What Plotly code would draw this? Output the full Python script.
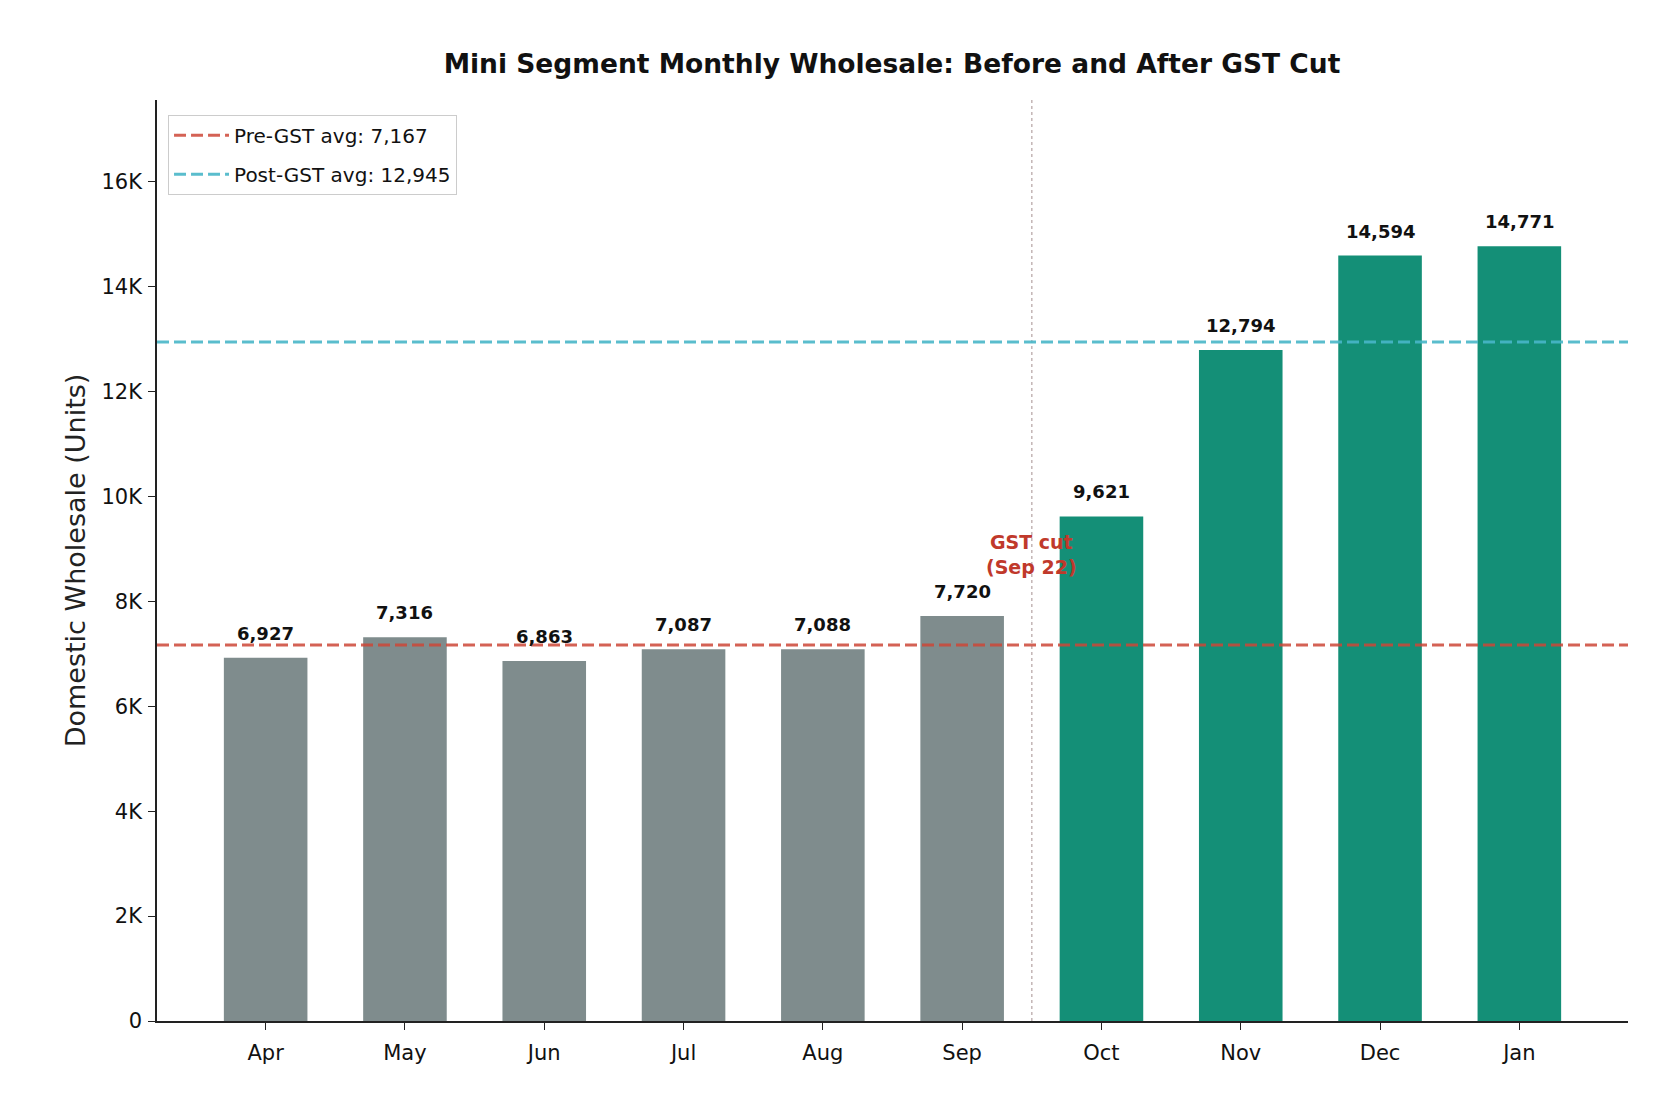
import plotly.graph_objects as go

months = ["Apr", "May", "Jun", "Jul", "Aug", "Sep", "Oct", "Nov", "Dec", "Jan"]
wholesale = [6927, 7316, 6863, 7087, 7088, 7720, 9621, 12794, 14594, 14771]
n_pre = 6
pre_avg = 7167
post_avg = 12945
ytick_vals = [0, 2000, 4000, 6000, 8000, 10000, 12000, 14000, 16000]
ytick_text = ["0", "2K", "4K", "6K", "8K", "10K", "12K", "14K", "16K"]

GRAY = "#7f8c8d"
GREEN = "#148f77"
FONT = "DejaVu Sans"

W, H = 1652, 1090  # page body adds an 8px margin around the figure
colors = [GRAY if i < n_pre else GREEN for i in range(len(months))]

fig = go.Figure()
fig.add_trace(go.Bar(
    x=months, y=wholesale, width=0.6,
    marker=dict(color=colors, line=dict(width=0)),
    showlegend=False, hoverinfo="x+y",
))

for m, v in zip(months, wholesale):
    fig.add_annotation(
        x=m, y=v, text=f"<b>{v:,}</b>", showarrow=False,
        yanchor="bottom", yshift=12,
        font=dict(family=FONT, size=18, color="#111111"),
    )

fig.add_shape(
    type="line", xref="x domain", yref="y", x0=0, x1=1, y0=pre_avg, y1=pre_avg,
    line=dict(color="rgba(205,70,55,0.85)", width=3, dash="12px,5px"),
    showlegend=True, name=f"Pre-GST avg: {pre_avg:,}", legendgroup="pre",
)
fig.add_shape(
    type="line", xref="x domain", yref="y", x0=0, x1=1, y0=post_avg, y1=post_avg,
    line=dict(color="rgba(72,182,200,0.9)", width=3, dash="12px,5px"),
    showlegend=True, name=f"Post-GST avg: {post_avg:,}", legendgroup="post",
)
fig.add_shape(
    type="line", xref="x", yref="y domain", x0=n_pre - 0.5, x1=n_pre - 0.5, y0=0, y1=1,
    line=dict(color="rgba(170,150,150,0.7)", width=1.5, dash="dot"),
    layer="below",
)
fig.add_annotation(
    x=n_pre - 0.5, y=8900, text="<b>GST cut<br>(Sep 22)</b>", showarrow=False,
    xanchor="center", yanchor="middle", align="center",
    font=dict(family=FONT, size=19, color="#c0392b"),
)

fig.update_layout(
    width=W, height=H,
    margin=dict(l=149, r=32, t=92, b=77),
    paper_bgcolor="white", plot_bgcolor="white",
    font=dict(family=FONT, size=21, color="#111111"),
    title=dict(
        text="<b>Mini Segment Monthly Wholesale: Before and After GST Cut</b>",
        x=884 / W, xanchor="center",
        y=1 - 56 / H, yanchor="middle",
        font=dict(family=FONT, size=26.5, color="#111111"),
    ),
    legend=dict(
        x=0.0075, y=0.984, xanchor="left", yanchor="top",
        bgcolor="rgba(255,255,255,0.85)", bordercolor="#cccccc", borderwidth=1,
        font=dict(family=FONT, size=20, color="#111111"),
        traceorder="grouped", tracegroupgap=10, itemwidth=55,
    ),
    bargap=0.4,
)
fig.update_xaxes(
    range=[-0.78, 9.78], showline=True, linecolor="#222222", linewidth=1.6,
    ticks="outside", ticklen=7, tickwidth=1.4, tickcolor="#222222",
    ticklabelstandoff=5,
    showgrid=False, zeroline=False,
    tickfont=dict(family=FONT, size=21, color="#111111"),
)
fig.update_yaxes(
    range=[0, 17560], showline=True, linecolor="#222222", linewidth=1.6,
    ticks="outside", ticklen=7, tickwidth=1.4, tickcolor="#222222",
    ticklabelstandoff=2,
    tickvals=ytick_vals, ticktext=ytick_text,
    showgrid=False, zeroline=False,
    tickfont=dict(family=FONT, size=21, color="#111111"),
    title=dict(text="Domestic Wholesale (Units)", standoff=8,
               font=dict(family=FONT, size=27, color="#222222")),
)

fig.write_html("out.html")
